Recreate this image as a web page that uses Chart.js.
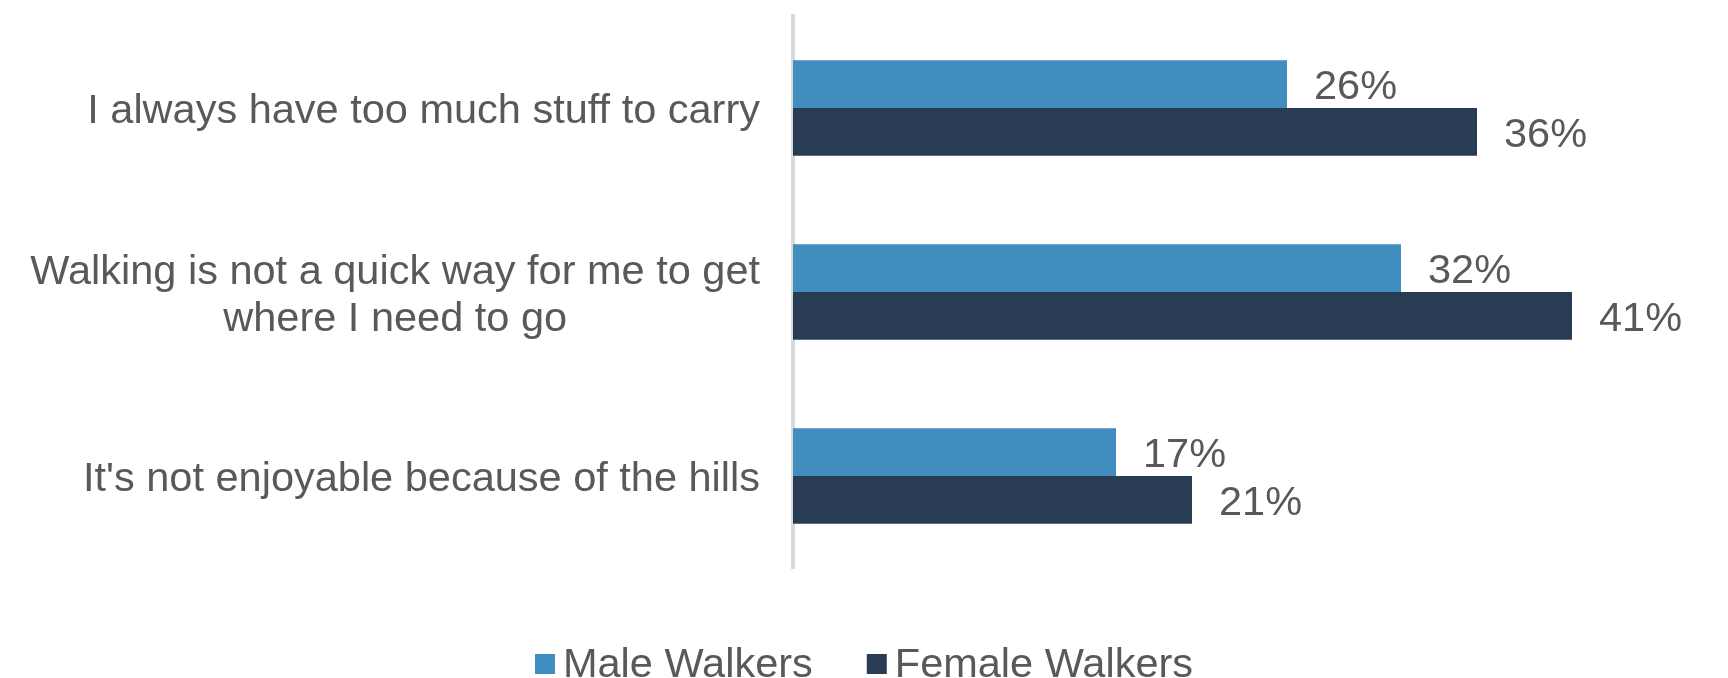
<!DOCTYPE html>
<html>
<head>
<meta charset="utf-8">
<script src="https://cdn.jsdelivr.net/npm/chart.js@4.4.1/dist/chart.umd.min.js"></script>
<style>
  html, body { margin: 0; padding: 0; background: #fff; overflow: hidden; }
  #wrap { width: 1728px; height: 678px; position: relative; }
</style>
</head>
<body>
<div id="wrap"><canvas id="walkChart"></canvas></div>
<script>
// barriers to walking, split by gender (percent of respondents)
const categories = [
  ['I always have too much stuff to carry'],
  ['Walking is not a quick way for me to get', 'where I need to go'],
  ["It's not enjoyable because of the hills"]
];
const seriesNames = ['Male Walkers', 'Female Walkers'];
const maleWalkers = [26, 32, 17];
const femaleWalkers = [36, 41, 21];

const maleColor = '#418DBF';
const femaleColor = '#283D54';
const textColor = '#595959';
const font = '41.5px "Liberation Sans", Arial, sans-serif';

// category names, value labels and legend are painted by hand so the
// spacing follows the office-style layout
const labelPlugin = {
  id: 'walkerLabels',
  afterDraw(chart) {
    const ctx = chart.ctx;
    const area = chart.chartArea;
    const yScale = chart.scales.y;
    ctx.save();
    ctx.font = font;
    ctx.fillStyle = textColor;
    ctx.textBaseline = 'alphabetic';

    // y category labels: right edge fixed, multi-line blocks centred
    const right = area.left - 33;
    ctx.textAlign = 'center';
    categories.forEach((lines, i) => {
      const cy = yScale.getPixelForValue(i);
      const widest = Math.max(...lines.map(l => ctx.measureText(l).width));
      const cx = right - widest / 2;
      lines.forEach((line, j) => {
        ctx.fillText(line, cx, cy + 15 + (j - (lines.length - 1) / 2) * 47);
      });
    });

    // value labels at the end of each bar
    ctx.textAlign = 'left';
    chart.data.datasets.forEach((ds, d) => {
      chart.getDatasetMeta(d).data.forEach((bar, i) => {
        ctx.fillText(ds.data[i] + '%', bar.x + 27, bar.y + 15);
      });
    });

    // legend along the bottom
    const box = 20, gap = 8, spacing = 54;
    const items = chart.data.datasets.map(ds => ({
      text: ds.label,
      color: ds.backgroundColor,
      w: box + gap + ctx.measureText(ds.label).width
    }));
    const total = items.reduce((s, it) => s + it.w, 0) + spacing * (items.length - 1);
    let x = chart.width / 2 - total / 2;
    items.forEach(it => {
      ctx.fillStyle = it.color;
      ctx.fillRect(x, 654, box, box);
      ctx.fillStyle = textColor;
      ctx.fillText(it.text, x + box + gap, 677);
      x += it.w + spacing;
    });
    ctx.restore();
  }
};

new Chart(document.getElementById('walkChart'), {
  type: 'bar',
  data: {
    labels: categories,
    datasets: [
      { label: seriesNames[0], data: maleWalkers, backgroundColor: maleColor },
      { label: seriesNames[1], data: femaleWalkers, backgroundColor: femaleColor }
    ]
  },
  options: {
    indexAxis: 'y',
    responsive: true,
    maintainAspectRatio: false,
    animation: false,
    layout: { padding: { top: 16, bottom: 110, right: 80, left: 0 } },
    datasets: {
      bar: { categoryPercentage: 0.52, barPercentage: 1.0 }
    },
    scales: {
      x: { display: false, min: 0, max: 45 },
      y: {
        ticks: { display: false },
        grid: { display: false },
        border: { display: true, color: '#D9D9D9', width: 4 },
        afterFit(scale) { scale.width = 793; }
      }
    },
    plugins: {
      legend: { display: false },
      tooltip: { enabled: false }
    }
  },
  plugins: [labelPlugin]
});
</script>
</body>
</html>
